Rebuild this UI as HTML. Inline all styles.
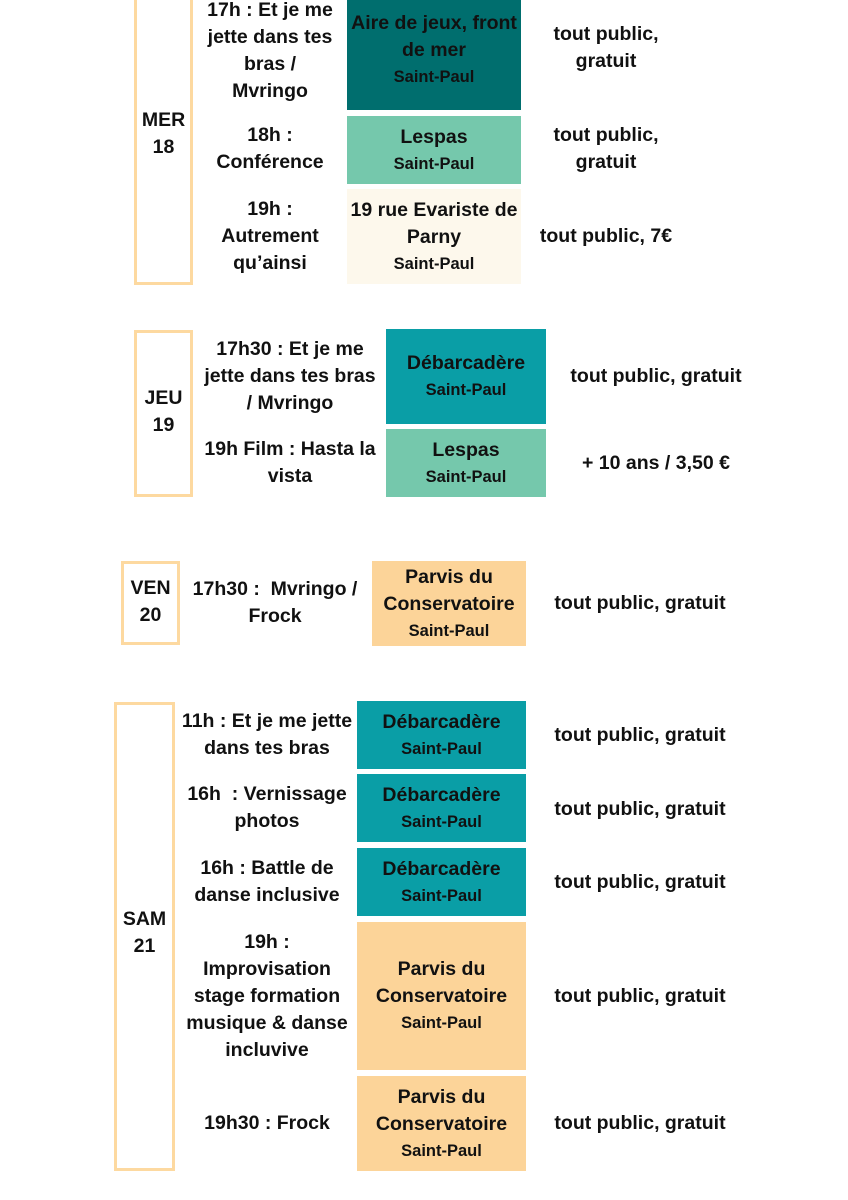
<!DOCTYPE html>
<html><head><meta charset="utf-8"><style>
body{margin:0;width:848px;height:1200px;background:#fff;position:relative;overflow:hidden;font-family:"Liberation Sans",sans-serif;font-weight:bold;color:#111;}
.a{position:absolute;display:flex;align-items:center;justify-content:center;text-align:center;font-size:19.5px;line-height:27px;letter-spacing:0;box-sizing:border-box;white-space:nowrap;}
.d{border:3px solid #fdd9a0;}
.v .s{font-size:16.5px;display:block;line-height:26px}
.dk{background:#006e6e}.lt{background:#75c8ac}.cr{background:#fdf8ec}.tl{background:#0a9ea6}.or{background:#fcd499}
</style></head><body>
<!-- MER -->
<div class="a d" style="left:134px;top:-10px;width:59px;height:295px"></div>
<div class="a" style="left:134px;top:107px;width:59px;height:54px">MER<br>18</div>
<div class="a" style="left:200px;top:0;width:140px;height:102px">17h : Et je me<br>jette dans tes<br>bras /<br>Mvringo</div>
<div class="a v dk" style="left:347px;top:-10px;width:174px;height:120px"><div>Aire de jeux, front<br>de mer<span class="s">Saint-Paul</span></div></div>
<div class="a" style="left:520px;top:20px;width:172px;height:56px">tout public,<br>gratuit</div>
<div class="a" style="left:200px;top:121px;width:140px;height:56px">18h :<br>Conférence</div>
<div class="a v lt" style="left:347px;top:116px;width:174px;height:68px"><div>Lespas<span class="s">Saint-Paul</span></div></div>
<div class="a" style="left:520px;top:121px;width:172px;height:56px">tout public,<br>gratuit</div>
<div class="a" style="left:200px;top:195px;width:140px;height:82px">19h :<br>Autrement<br>qu’ainsi</div>
<div class="a v cr" style="left:347px;top:189px;width:174px;height:95px"><div>19 rue Evariste de<br>Parny<span class="s">Saint-Paul</span></div></div>
<div class="a" style="left:520px;top:222px;width:172px;height:28px">tout public, 7€</div>
<!-- JEU -->
<div class="a d" style="left:134px;top:330px;width:59px;height:167px"></div>
<div class="a" style="left:134px;top:385px;width:59px;height:54px">JEU<br>19</div>
<div class="a" style="left:200px;top:335px;width:180px;height:82px">17h30 : Et je me<br>jette dans tes bras<br>/ Mvringo</div>
<div class="a v tl" style="left:386px;top:329px;width:160px;height:95px"><div>Débarcadère<span class="s">Saint-Paul</span></div></div>
<div class="a" style="left:556px;top:362px;width:200px;height:28px">tout public, gratuit</div>
<div class="a" style="left:200px;top:435px;width:180px;height:56px">19h Film : Hasta la<br>vista</div>
<div class="a v lt" style="left:386px;top:429px;width:160px;height:68px"><div>Lespas<span class="s">Saint-Paul</span></div></div>
<div class="a" style="left:556px;top:449px;width:200px;height:28px">+ 10 ans / 3,50 €</div>
<!-- VEN -->
<div class="a d" style="left:121px;top:561px;width:59px;height:84px"></div>
<div class="a" style="left:121px;top:575px;width:59px;height:54px">VEN<br>20</div>
<div class="a" style="left:185px;top:575px;width:180px;height:56px">17h30 :&nbsp; Mvringo /<br>Frock</div>
<div class="a v or" style="left:372px;top:561px;width:154px;height:85px"><div>Parvis du<br>Conservatoire<span class="s">Saint-Paul</span></div></div>
<div class="a" style="left:540px;top:589px;width:200px;height:28px">tout public, gratuit</div>
<!-- SAM -->
<div class="a d" style="left:114px;top:702px;width:61px;height:469px"></div>
<div class="a" style="left:114px;top:906px;width:61px;height:54px">SAM<br>21</div>
<div class="a" style="left:180px;top:707px;width:174px;height:56px">11h : Et je me jette<br>dans tes bras</div>
<div class="a v tl" style="left:357px;top:701px;width:169px;height:68px"><div>Débarcadère<span class="s">Saint-Paul</span></div></div>
<div class="a" style="left:540px;top:721px;width:200px;height:28px">tout public, gratuit</div>
<div class="a" style="left:180px;top:780px;width:174px;height:56px">16h&nbsp; : Vernissage<br>photos</div>
<div class="a v tl" style="left:357px;top:774px;width:169px;height:68px"><div>Débarcadère<span class="s">Saint-Paul</span></div></div>
<div class="a" style="left:540px;top:795px;width:200px;height:28px">tout public, gratuit</div>
<div class="a" style="left:180px;top:854px;width:174px;height:56px">16h : Battle de<br>danse inclusive</div>
<div class="a v tl" style="left:357px;top:848px;width:169px;height:68px"><div>Débarcadère<span class="s">Saint-Paul</span></div></div>
<div class="a" style="left:540px;top:868px;width:200px;height:28px">tout public, gratuit</div>
<div class="a" style="left:180px;top:928px;width:174px;height:136px">19h :<br>Improvisation<br>stage formation<br>musique &amp; danse<br>incluvive</div>
<div class="a v or" style="left:357px;top:922px;width:169px;height:148px"><div>Parvis du<br>Conservatoire<span class="s">Saint-Paul</span></div></div>
<div class="a" style="left:540px;top:982px;width:200px;height:28px">tout public, gratuit</div>
<div class="a" style="left:180px;top:1109px;width:174px;height:28px">19h30 : Frock</div>
<div class="a v or" style="left:357px;top:1076px;width:169px;height:95px"><div>Parvis du<br>Conservatoire<span class="s">Saint-Paul</span></div></div>
<div class="a" style="left:540px;top:1109px;width:200px;height:28px">tout public, gratuit</div>
</body></html>
